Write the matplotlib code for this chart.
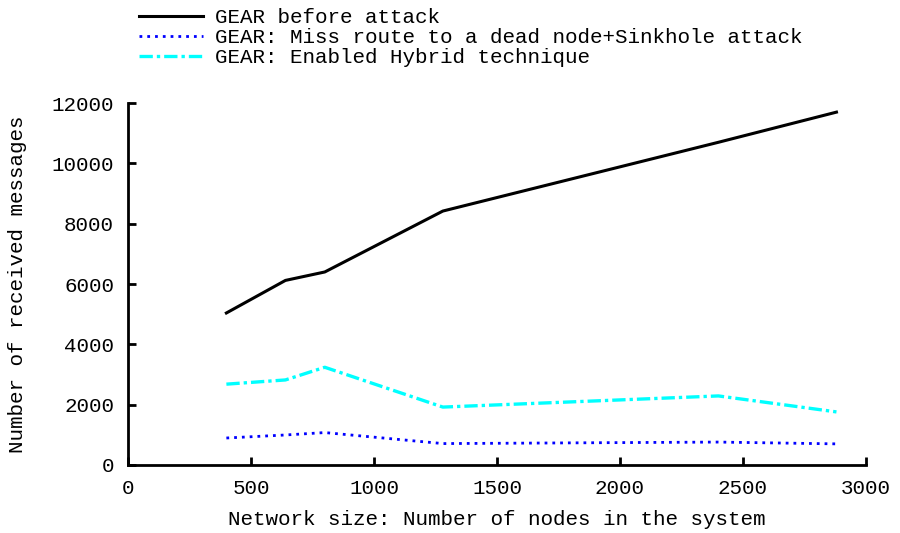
import matplotlib
matplotlib.use("Agg")
import matplotlib.pyplot as plt

plt.rcParams['font.family'] = ['Liberation Mono', 'DejaVu Sans Mono']

# network sizes (nodes) and received message counts
nodes = [400, 640, 800, 1280, 2400, 2880]
before_attack = [5040, 6120, 6400, 8420, 10700, 11700]
sinkhole = [895, 995, 1075, 710, 760, 700]
hybrid = [2680, 2820, 3240, 1920, 2290, 1760]

labels = ['GEAR before attack',
          'GEAR: Miss route to a dead node+Sinkhole attack',
          'GEAR: Enabled Hybrid technique']

fig = plt.figure(figsize=(9, 5.33), dpi=100)
ax = fig.add_axes([0.1422, 0.1276, 0.82, 0.679])

ax.plot(nodes, before_attack, color='black', lw=2.2, label=labels[0])
ax.plot(nodes, sinkhole, color='blue', lw=2.0, linestyle=(0, (1, 1.8)),
        dash_capstyle='butt', label=labels[1])
ax.plot(nodes, hybrid, color='cyan', lw=2.4, linestyle=(0, (4, 1.2, 1, 1.2)),
        dash_capstyle='butt', label=labels[2])

ax.set_xlim(0, 3000)
ax.set_ylim(0, 12000)
ax.set_xticks(range(0, 3001, 500))
ax.set_yticks(range(0, 12001, 2000))

for side in ['top', 'right']:
    ax.spines[side].set_visible(False)
for side in ['left', 'bottom']:
    ax.spines[side].set_linewidth(2)

ax.tick_params(direction='in', length=6, width=2, labelsize=15, pad=10)
ax.set_xlabel('Network size: Number of nodes in the system', fontsize=15, labelpad=9)
ax.set_ylabel('Number of received messages', fontsize=15, labelpad=18)

fig.legend(loc='upper left', bbox_to_anchor=(0.145, 1.0), frameon=False,
           fontsize=15, handlelength=3.1, handletextpad=0.55, labelspacing=0.05,
           borderaxespad=0)

fig.savefig('out.png', dpi=100)
